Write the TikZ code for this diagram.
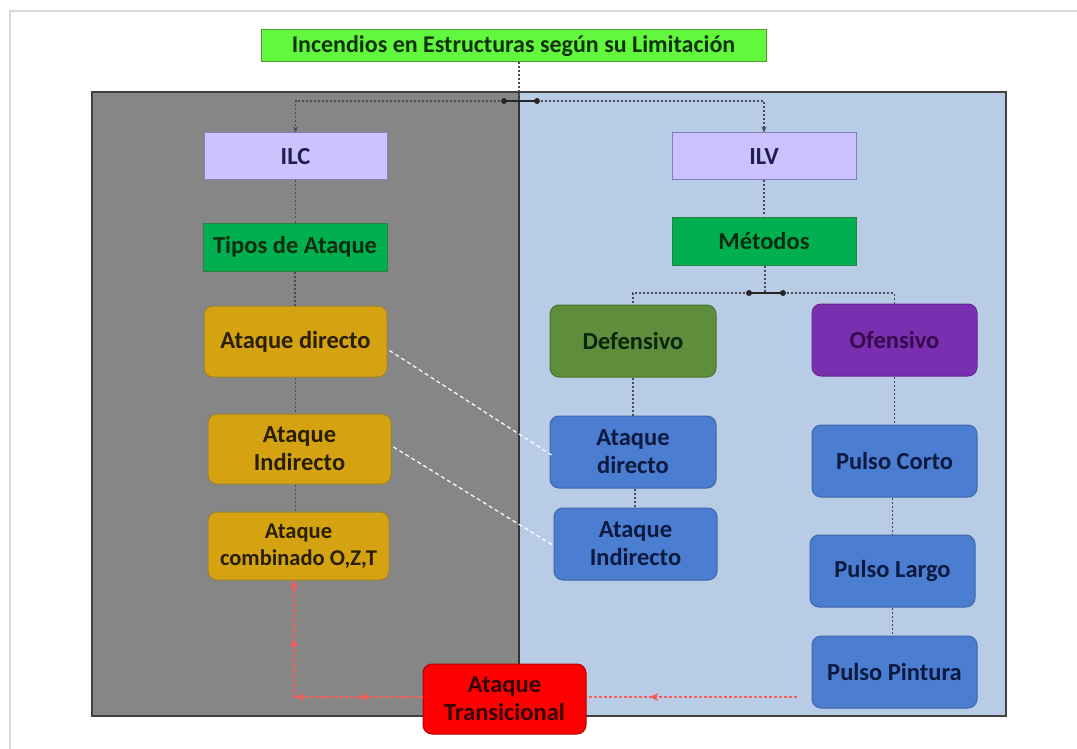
\documentclass[tikz,border=0pt]{standalone}
\usepackage{fontspec}
\setmainfont{Carlito}
\usetikzlibrary{arrows.meta,decorations.markings,calc}
\definecolor{titlegreen}{HTML}{62F83E}
\definecolor{titleedge}{HTML}{4E9A2E}
\definecolor{panelgray}{HTML}{868686}
\definecolor{panelblue}{HTML}{B9CCE6}
\definecolor{lav}{HTML}{CCC2FE}
\definecolor{lavedge}{HTML}{7E7EC2}
\definecolor{midgreen}{HTML}{00B050}
\definecolor{midgreenedge}{HTML}{2F7F44}
\definecolor{gold}{HTML}{D5A312}
\definecolor{goldedge}{HTML}{9C8236}
\definecolor{olive}{HTML}{5E8E3C}
\definecolor{purp}{HTML}{7A2FB0}
\definecolor{bluebox}{HTML}{4B7DD0}
\definecolor{blueedge}{HTML}{3E66AA}
\definecolor{redbox}{HTML}{FF0000}
\definecolor{redline}{HTML}{FF5A5A}
\definecolor{dotline}{HTML}{4A4A5A}
\tikzset{
  boxbase/.style={draw, line width=1pt, inner sep=0pt, align=center,
    font=\bfseries\fontsize{24.5}{28}\selectfont},
  sqbox/.style={boxbase},
  rbox/.style={boxbase, rounded corners=9pt},
  dotconn/.style={dotline, line width=1.1pt, dash pattern=on 2pt off 2pt},
  whiteconn/.style={white, line width=1.2pt, dash pattern=on 4pt off 3pt},
  redconn/.style={redline, line width=1.3pt, dash pattern=on 3pt off 2pt},
  jdot/.style={circle, fill=black!85, inner sep=0pt, minimum size=6pt},
  redtip/.style={postaction={decorate}, decoration={markings,
    mark=at position #1 with {\arrow[redline,solid]{Stealth[length=9pt,width=8pt]}}}},
  redtips/.style 2 args={postaction={decorate}, decoration={markings,
    mark=at position #1 with {\arrow[redline,solid]{Stealth[length=9pt,width=8pt]}},
    mark=at position #2 with {\arrow[redline,solid]{Stealth[length=9pt,width=8pt]}}}},
}
\begin{document}
\begin{tikzpicture}[x=1pt,y=-1pt]
\useasboundingbox (0,0) rectangle (1077,749);
\fill[white] (0,0) rectangle (1077,749);
% outer faint frame
\draw[black!15, line width=1.5pt] (10,749) -- (10,11) -- (1077,11);
% panels
\fill[panelgray] (92,92) rectangle (519,716);
\fill[panelblue] (519,92) rectangle (1006,716);
\draw[black!75, line width=1.5pt] (92,716) -- (92,92) -- (1006,92) -- (1006,716) -- cycle;
\draw[black!80, line width=1.3pt] (519,92) -- (519,716);

% title
\node[sqbox, fill=titlegreen, draw=titleedge, text={rgb,255:red,15;green,50;blue,10},
  minimum width=505pt, minimum height=32pt,
  font=\bfseries\fontsize{24}{28}\selectfont] (title) at (513.5,46)
  {Incendios en Estructuras según su Limitación};

% left column
\node[sqbox, fill=lav, draw=lavedge, text={rgb,255:red,30;green,30;blue,80},
  minimum width=183pt, minimum height=47pt] (ilc) at (295.5,156.5) {ILC};
\node[sqbox, fill=midgreen, draw=midgreenedge, text={rgb,255:red,10;green,45;blue,15},
  minimum width=184pt, minimum height=48pt] (tipos) at (295,247) {Tipos de Ataque};
\node[rbox, fill=gold, draw=goldedge, text={rgb,255:red,40;green,30;blue,0},
  minimum width=183pt, minimum height=71pt] (adl) at (295.5,341.5) {Ataque directo};
\node[rbox, fill=gold, draw=goldedge, text={rgb,255:red,40;green,30;blue,0},
  minimum width=183pt, minimum height=70pt] (ail) at (299.5,449) {Ataque\\Indirecto};
\node[rbox, fill=gold, draw=goldedge, text={rgb,255:red,40;green,30;blue,0},
  minimum width=181pt, minimum height=68pt,
  font=\bfseries\fontsize{22.5}{27}\selectfont] (acl) at (298.5,546)
  {Ataque\\combinado O,Z,T};

% right column
\node[sqbox, fill=lav, draw=lavedge, text={rgb,255:red,30;green,30;blue,80},
  minimum width=184pt, minimum height=47pt] (ilv) at (764,156.5) {ILV};
\node[sqbox, fill=midgreen, draw=midgreenedge, text={rgb,255:red,10;green,45;blue,15},
  minimum width=184pt, minimum height=48pt] (met) at (764,241) {Métodos};
\node[rbox, fill=olive, draw=olive!80!black, text={rgb,255:red,10;green,35;blue,10},
  minimum width=166pt, minimum height=72pt] (def) at (633,341) {Defensivo};
\node[rbox, fill=purp, draw=purp!80!black, text={rgb,255:red,55;green,10;blue,75},
  minimum width=165pt, minimum height=72pt] (ofe) at (894.5,340) {Ofensivo};
\node[rbox, fill=bluebox, draw=blueedge, text={rgb,255:red,12;green,25;blue,65},
  minimum width=166pt, minimum height=72pt] (adr) at (633,452) {Ataque\\directo};
\node[rbox, fill=bluebox, draw=blueedge, text={rgb,255:red,12;green,25;blue,65},
  minimum width=163pt, minimum height=72pt] (air) at (635.5,544) {Ataque\\Indirecto};
\node[rbox, fill=bluebox, draw=blueedge, text={rgb,255:red,12;green,25;blue,65},
  minimum width=165pt, minimum height=72pt] (pc) at (894.5,461) {Pulso Corto};
\node[rbox, fill=bluebox, draw=blueedge, text={rgb,255:red,12;green,25;blue,65},
  minimum width=165pt, minimum height=72pt] (pl) at (892.5,571) {Pulso Largo};
\node[rbox, fill=bluebox, draw=blueedge, text={rgb,255:red,12;green,25;blue,65},
  minimum width=165pt, minimum height=72pt] (pp) at (894.5,672) {Pulso Pintura};

% transitional
\node[rbox, fill=redbox, draw=red!70!black, text={rgb,255:red,50;green,0;blue,0},
  minimum width=163pt, minimum height=70pt] (trans) at (504.5,699) {Ataque\\Transicional};

% top junction
\coordinate (j) at (519,101);
\draw[dotconn] (title.south -| j) -- (j);
\draw[dotconn, -{Stealth[length=6pt,width=5pt]}] ($(j)+(-15,0)$) -| (ilc.north);
\draw[dotconn, -{Stealth[length=6pt,width=5pt]}] ($(j)+(18,0)$) -| (ilv.north);
\draw[black!85, line width=1.2pt] ($(j)+(-15,0)$) -- ($(j)+(18,0)$);
\node[jdot] (jl) at ($(j)+(-15,0)$) {};
\node[jdot] (jr) at ($(j)+(18,0)$) {};

% methods junction
\coordinate (m) at (765,293);
\draw[dotconn] (met.south -| m) -- (m);
\draw[dotconn] ($(m)+(-16,0)$) -| (def.north);
\draw[dotconn] ($(m)+(18,0)$) -| (ofe.north);
\draw[black!85, line width=1.2pt] ($(m)+(-16,0)$) -- ($(m)+(18,0)$);
\node[jdot] (ml) at ($(m)+(-16,0)$) {};
\node[jdot] (mr) at ($(m)+(18,0)$) {};

% vertical dotted links
\draw[dotconn] (ilc.south) -- (ilc.south |- tipos.north);
\draw[dotconn] (tipos.south) -- (tipos.south |- adl.north);
\draw[dotconn] (adl.south) -- (adl.south |- ail.north);
\draw[dotconn] (ail.south -| adl.south) -- (adl.south |- acl.north);
\draw[dotconn] (ilv.south) -- (ilv.south |- met.north);
\draw[dotconn] (def.south) -- (def.south |- adr.north);
\draw[dotconn] ($(adr.south)+(2,0)$) -- ($(adr.south |- air.north)+(2,0)$);
\draw[dotconn] (ofe.south) -- (ofe.south |- pc.north);
\draw[dotconn] (pc.south -| pl.south) -- (pl.north);
\draw[dotconn] (pl.south) -- (pl.south |- pp.north);

% white dashed cross links
\draw[whiteconn] ($(adl.east)+(2,9)$) -- ($(adr.west)+(2,3)$);
\draw[whiteconn] ($(ail.east)+(2,-2)$) -- ($(air.west)+(-1,1)$);

% red transitional links
\coordinate (rs) at ($(pp.west)+(-15,25)$);
\coordinate (rc) at (294,697);
\draw[redconn, redtip=0.7] (rs) -- (rs -| trans.east);
\draw[redconn, redtips={0.5}{0.99}] (trans.west |- rc) -- (rc);
\draw[redconn, redtip=0.5, -{Stealth[length=9pt,width=8pt]}] (rc) -- (rc |- acl.south);
\end{tikzpicture}
\end{document}
